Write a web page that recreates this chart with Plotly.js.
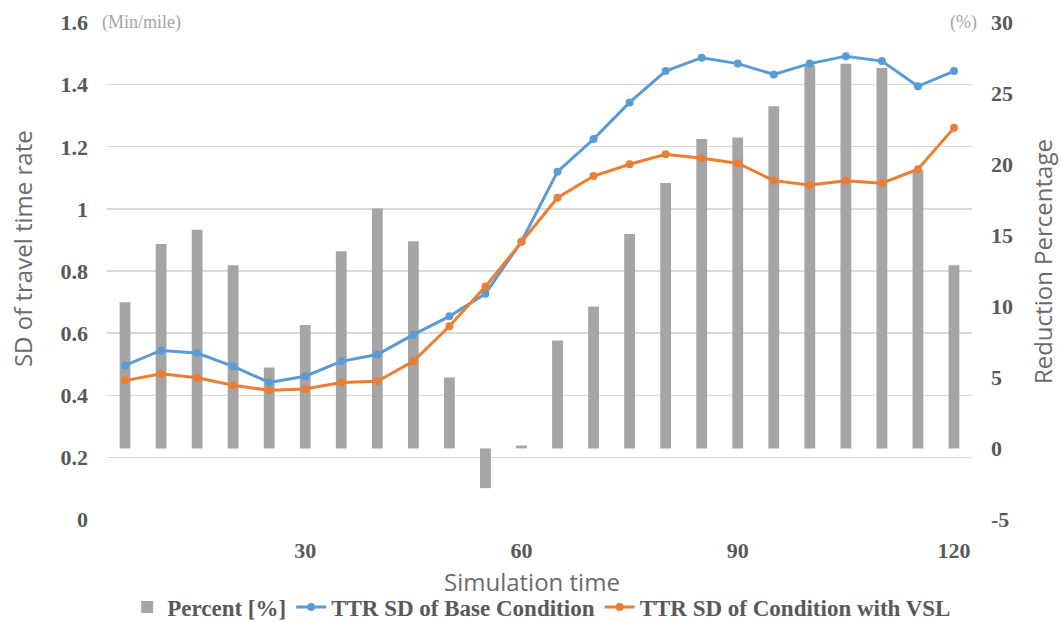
<!DOCTYPE html>
<html>
<head>
<meta charset="utf-8">
<script src="https://cdn.plot.ly/plotly-3.0.1.min.js"></script>
<style>html,body{margin:0;padding:0;background:#fff;}#chart{width:1060px;height:622px;}</style>
</head>
<body>
<div id="chart"></div>
<script>
const minutes = [5,10,15,20,25,30,35,40,45,50,55,60,65,70,75,80,85,90,95,100,105,110,115,120];
const percentReduction = [10.3,14.4,15.4,12.9,5.7,8.7,13.9,16.9,14.6,5.0,-2.8,0.2,7.6,10.0,15.1,18.7,21.8,21.9,24.1,27.0,27.1,26.8,19.6,12.9];
const ttrBase = [0.496,0.544,0.536,0.493,0.441,0.461,0.509,0.531,0.595,0.654,0.727,0.895,1.120,1.225,1.343,1.444,1.487,1.468,1.433,1.468,1.492,1.476,1.395,1.444];
const ttrVSL = [0.447,0.469,0.456,0.432,0.416,0.420,0.441,0.445,0.509,0.622,0.750,0.894,1.036,1.106,1.144,1.176,1.163,1.147,1.091,1.077,1.091,1.083,1.128,1.261];
const xTicks = [30,60,90,120];
const pctTicks = [-5,0,5,10,15,20,25,30];
const seriesNames = ['Percent [%]','TTR SD of Base Condition','TTR SD of Condition with VSL'];

const tickFont = {family:'Liberation Serif, Times New Roman, serif', size:22, color:'#595959', weight:'bold'};
const titleFont = {family:'Open Sans, sans-serif', size:24, color:'#6b6b6b'};

const data = [
  {type:'bar', x:minutes, y:percentReduction, name:seriesNames[0], yaxis:'y',
   marker:{color:'#A5A5A5'}},
  {type:'scatter', mode:'lines+markers', x:minutes, y:ttrBase, name:seriesNames[1], yaxis:'y2',
   line:{color:'#5B9BD5', width:3}, marker:{color:'#5B9BD5', size:8}},
  {type:'scatter', mode:'lines+markers', x:minutes, y:ttrVSL, name:seriesNames[2], yaxis:'y2',
   line:{color:'#ED7D31', width:3}, marker:{color:'#ED7D31', size:8}}
];

const layout = {
  width:1060, height:622,
  margin:{l:107, r:88, t:22, b:102},
  paper_bgcolor:'#fff', plot_bgcolor:'#fff',
  bargap:0.7,
  showlegend:true,
  legend:{orientation:'h', xref:'container', yref:'container', x:0.511, xanchor:'center', y:0.024, yanchor:'middle',
          font:{family:'Liberation Serif, Times New Roman, serif', size:23, color:'#595959', weight:'bold'},
          itemwidth:30, tracegroupgap:0},
  xaxis:{range:[2.5,122.5], tickmode:'array', tickvals:xTicks, ticktext:xTicks.map(String),
         showgrid:false, zeroline:false, showline:false, ticks:'', tickfont:tickFont, ticklabelstandoff:15,
         automargin:false},
  yaxis:{side:'right', range:[-5.044,30.044], tickmode:'array', tickvals:pctTicks, ticktext:pctTicks.map(String),
         showgrid:false, zeroline:false, showline:false,
         ticks:'', tickfont:tickFont, ticklabelstandoff:18, automargin:false},
  yaxis2:{overlaying:'y', side:'left', range:[-0.002,1.602], dtick:0.2, tick0:0, showgrid:true, gridcolor:'#D9D9D9',
          gridwidth:1.3, zeroline:false, showline:false, ticks:'', tickfont:tickFont, ticklabelstandoff:18,
          automargin:false},
  annotations:[
    {text:'(Min/mile)', xref:'paper', yref:'paper', x:-0.008, y:1, xanchor:'left', yanchor:'middle',
     showarrow:false, bgcolor:'#fff', font:{family:'Liberation Serif, serif', size:18, color:'#a6a6a6'}},
    {text:'(%)', xref:'paper', yref:'paper', x:1.008, y:1, xanchor:'right', yanchor:'middle',
     showarrow:false, bgcolor:'#fff', font:{family:'Liberation Serif, serif', size:18, color:'#a6a6a6'}},
    {text:'SD of travel time rate', xref:'paper', yref:'paper', x:-0.0983, y:0.546, textangle:-90,
     xanchor:'center', yanchor:'middle', showarrow:false, font:titleFont},
    {text:'Reduction Percentage', xref:'paper', yref:'paper', x:1.081, y:0.518, textangle:-90,
     xanchor:'center', yanchor:'middle', showarrow:false, font:titleFont},
    {text:'Simulation time', xref:'paper', yref:'paper', x:0.491, y:-0.1225,
     xanchor:'center', yanchor:'middle', showarrow:false, borderpad:0,
     font:{family:'Open Sans, sans-serif', size:24, color:'#6b6b6b'}}
  ]
};

Plotly.newPlot('chart', data, layout, {displayModeBar:false, staticPlot:true});
</script>
</body>
</html>
